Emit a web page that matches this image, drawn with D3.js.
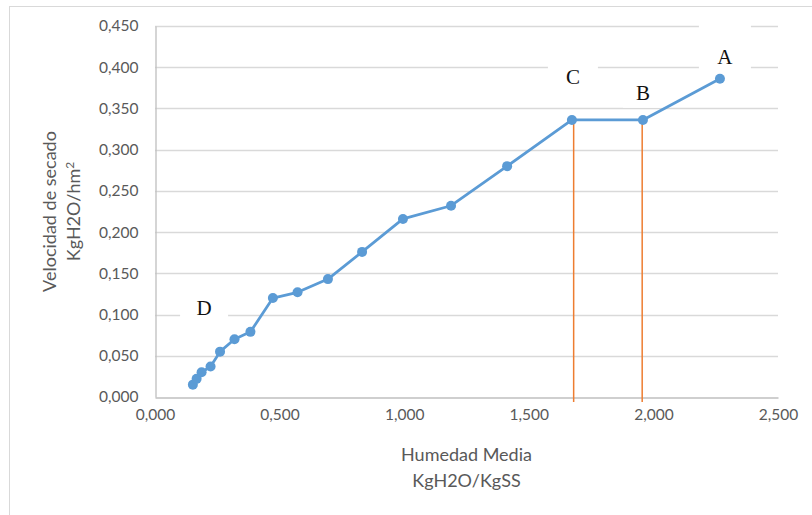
<!DOCTYPE html>
<html>
<head>
<meta charset="utf-8">
<script src="https://cdn.jsdelivr.net/npm/d3@7"></script>
<style>
  html, body { margin: 0; padding: 0; background: #fff; }
  svg { display: block; }
</style>
</head>
<body>
<svg id="chart" width="812" height="515"></svg>
<script>
// Drying-rate curve: mean moisture vs drying rate
const humedad = [0.152, 0.167, 0.187, 0.223, 0.261, 0.319, 0.383, 0.473, 0.572, 0.694,
                 0.831, 0.995, 1.188, 1.413, 1.673, 1.958, 2.267];
const velocidad = [0.015, 0.022, 0.030, 0.037, 0.055, 0.070, 0.079, 0.120, 0.127, 0.143,
                   0.176, 0.216, 0.232, 0.280, 0.336, 0.336, 0.386];

const xTicks = [0, 0.5, 1.0, 1.5, 2.0, 2.5];
const yTicks = [0, 0.05, 0.10, 0.15, 0.20, 0.25, 0.30, 0.35, 0.40, 0.45];

// vertical markers dropped from the constant-rate stage ends
const guideX = [1.68, 1.955];
const guideTop = [0.336, 0.336];

// stage letters
const stageText = ["A", "B", "C", "D"];
const stageX = [2.287, 1.958, 1.677, 0.197];
const stageY = [0.413, 0.369, 0.388, 0.108];

const svg = d3.select("#chart");
const plotLeft = 155, plotRight = 778, plotTop = 26, plotBottom = 397;

const x = d3.scaleLinear().domain([0, 2.5]).range([plotLeft, plotRight]);
const y = d3.scaleLinear().domain([0, 0.45]).range([plotBottom, plotTop]);
const fmt = v => d3.format(".3f")(v).replace(".", ",");

// outer frame
svg.append("rect")
  .attr("x", 9.5).attr("y", 6.5).attr("width", 900).attr("height", 600)
  .attr("fill", "#fff").attr("stroke", "#d9d9d9").attr("stroke-width", 1);

// gridlines
svg.append("g").selectAll("line").data(yTicks.filter(d => d > 0)).join("line")
  .attr("x1", plotLeft).attr("x2", plotRight)
  .attr("y1", d => Math.round(y(d)) + 0.5).attr("y2", d => Math.round(y(d)) + 0.5)
  .attr("stroke", "#d9d9d9").attr("stroke-width", 1.3);

// axes
const xAxis = d3.axisBottom(x).tickValues(xTicks).tickFormat(fmt).tickSize(0).tickPadding(17);
const yAxis = d3.axisLeft(y).tickValues(yTicks).tickFormat(fmt).tickSize(0).tickPadding(17);

const gx = svg.append("g").attr("transform", `translate(0,${Math.round(plotBottom) + 0.5})`).call(xAxis);
const gy = svg.append("g").attr("transform", `translate(${plotLeft + 0.5},0)`).call(yAxis);
[gx, gy].forEach(g => {
  g.select(".domain").attr("stroke", "#bfbfbf").attr("stroke-width", 1.3);
  g.selectAll("text").attr("fill", "#595959")
    .style("font-family", "Lato, 'Open Sans', sans-serif").style("font-size", "15.5px");
});
gx.selectAll("text").attr("dy", "0.35em");

// axis titles
const titleStyle = s => s.attr("fill", "#595959")
  .style("font-family", "Lato, 'Open Sans', sans-serif").style("font-size", "18px")
  .attr("text-anchor", "middle");
svg.append("text").attr("x", (plotLeft + plotRight) / 2).attr("y", 461).text("Humedad Media").call(titleStyle);
svg.append("text").attr("x", (plotLeft + plotRight) / 2).attr("y", 487).text("KgH2O/KgSS").call(titleStyle);

const yt = svg.append("g").attr("transform", `translate(0,${(plotTop + plotBottom) / 2})`);
yt.append("text").attr("transform", "translate(56,0) rotate(-90)").text("Velocidad de secado").call(titleStyle);
const yt2 = yt.append("text").attr("transform", "translate(80,0) rotate(-90)").call(titleStyle);
yt2.append("tspan").text("KgH2O/hm");
yt2.append("tspan").attr("dy", "-0.5em").style("font-size", "12px").text("2");

// stage letters sit in white boxes that mask the gridlines behind them
const boxes = { A: [-26, -36, 52, 56], B: [-20, -19, 40, 34], C: [-25, -23, 50, 46], D: [-24, -14, 48, 30] };
const lab = svg.append("g").selectAll("g").data(stageText).join("g")
  .attr("transform", (d, i) => `translate(${x(stageX[i])},${y(stageY[i])})`);
lab.append("rect")
  .attr("x", d => boxes[d][0]).attr("y", d => boxes[d][1])
  .attr("width", d => boxes[d][2]).attr("height", d => boxes[d][3])
  .attr("fill", "#fff");
lab.append("text").text(d => d)
  .attr("text-anchor", "middle").attr("dy", "0.35em")
  .attr("fill", "#111")
  .style("font-family", "'Liberation Serif', 'DejaVu Serif', serif").style("font-size", "21px");

// orange guide lines
svg.append("g").selectAll("line").data(guideX).join("line")
  .attr("x1", d => x(d)).attr("x2", d => x(d))
  .attr("y1", (d, i) => y(guideTop[i])).attr("y2", y(-0.006))
  .attr("stroke", "#ED7D31").attr("stroke-width", 1.5);

// data line and markers
const pts = humedad.map((h, i) => [h, velocidad[i]]);
svg.append("path").datum(pts)
  .attr("fill", "none").attr("stroke", "#5B9BD5").attr("stroke-width", 2.75)
  .attr("stroke-linejoin", "round")
  .attr("d", d3.line().x(d => x(d[0])).y(d => y(d[1])));
svg.append("g").selectAll("circle").data(pts).join("circle")
  .attr("cx", d => x(d[0])).attr("cy", d => y(d[1])).attr("r", 5)
  .attr("fill", "#5B9BD5");
</script>
</body>
</html>
